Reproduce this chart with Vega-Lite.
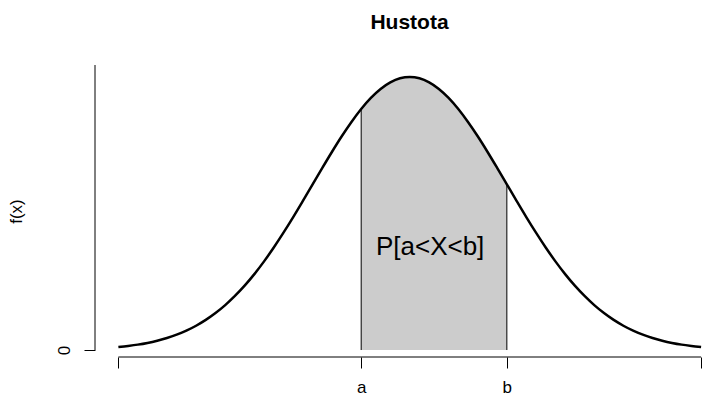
{
  "$schema": "https://vega.github.io/schema/vega-lite/v6.json",
  "autosize": "none",
  "padding": {"left": 95, "top": 65, "right": 0, "bottom": 40},
  "width": 607,
  "height": 292,
  "background": "white",
  "config": {
    "view": {"stroke": null},
    "font": "Liberation Sans",
    "title": {"font": "Liberation Sans", "fontSize": 21, "fontWeight": "bold", "color": "black", "anchor": "middle", "offset": 32},
    "axis": {"labelFont": "Liberation Sans", "titleFont": "Liberation Sans", "labelColor": "black", "titleColor": "black", "tickColor": "black", "grid": false, "domain": false}
  },
  "title": {"text": "Hustota", "dx": 11},
  "datasets": {
    "curve": [
      {"x": -3.0, "y": 0.0044}, {"x": -2.9, "y": 0.0060}, {"x": -2.8, "y": 0.0079}, {"x": -2.7, "y": 0.0104},
      {"x": -2.6, "y": 0.0136}, {"x": -2.5, "y": 0.0175}, {"x": -2.4, "y": 0.0224}, {"x": -2.3, "y": 0.0283},
      {"x": -2.2, "y": 0.0355}, {"x": -2.1, "y": 0.0440}, {"x": -2.0, "y": 0.0540}, {"x": -1.9, "y": 0.0656},
      {"x": -1.8, "y": 0.0790}, {"x": -1.7, "y": 0.0940}, {"x": -1.6, "y": 0.1109}, {"x": -1.5, "y": 0.1295},
      {"x": -1.4, "y": 0.1497}, {"x": -1.3, "y": 0.1714}, {"x": -1.2, "y": 0.1942}, {"x": -1.1, "y": 0.2179},
      {"x": -1.0, "y": 0.2420}, {"x": -0.9, "y": 0.2661}, {"x": -0.8, "y": 0.2897}, {"x": -0.7, "y": 0.3123},
      {"x": -0.6, "y": 0.3332}, {"x": -0.5, "y": 0.3521}, {"x": -0.4, "y": 0.3683}, {"x": -0.3, "y": 0.3814},
      {"x": -0.2, "y": 0.3910}, {"x": -0.1, "y": 0.3970}, {"x": 0.0, "y": 0.3989}, {"x": 0.1, "y": 0.3970},
      {"x": 0.2, "y": 0.3910}, {"x": 0.3, "y": 0.3814}, {"x": 0.4, "y": 0.3683}, {"x": 0.5, "y": 0.3521},
      {"x": 0.6, "y": 0.3332}, {"x": 0.7, "y": 0.3123}, {"x": 0.8, "y": 0.2897}, {"x": 0.9, "y": 0.2661},
      {"x": 1.0, "y": 0.2420}, {"x": 1.1, "y": 0.2179}, {"x": 1.2, "y": 0.1942}, {"x": 1.3, "y": 0.1714},
      {"x": 1.4, "y": 0.1497}, {"x": 1.5, "y": 0.1295}, {"x": 1.6, "y": 0.1109}, {"x": 1.7, "y": 0.0940},
      {"x": 1.8, "y": 0.0790}, {"x": 1.9, "y": 0.0656}, {"x": 2.0, "y": 0.0540}, {"x": 2.1, "y": 0.0440},
      {"x": 2.2, "y": 0.0355}, {"x": 2.3, "y": 0.0283}, {"x": 2.4, "y": 0.0224}, {"x": 2.5, "y": 0.0175},
      {"x": 2.6, "y": 0.0136}, {"x": 2.7, "y": 0.0104}, {"x": 2.8, "y": 0.0079}, {"x": 2.9, "y": 0.0060},
      {"x": 3.0, "y": 0.0044}
    ],
    "annot": [{"x": 0.21, "y": 0.15, "label": "P[a<X<b]"}]
  },
  "layer": [
    {
      "data": {"name": "curve"},
      "transform": [{"filter": {"field": "x", "range": [-0.5, 1]}}],
      "mark": {"type": "area", "color": "#cccccc", "opacity": 1},
      "encoding": {
        "x": {
          "field": "x", "type": "quantitative",
          "scale": {"domain": [-3.2407, 3.0093], "nice": false, "zero": false},
          "axis": {"title": null, "values": [-3, -0.5, 1, 3], "tickSize": 11, "labelFontSize": 17, "labelPadding": 11,
                   "labelExpr": "datum.value == -0.5 ? 'a' : (datum.value == 1 ? 'b' : '')"}
        },
        "y": {
          "field": "y", "type": "quantitative",
          "scale": {"domain": [-0.0102, 0.4164], "nice": false, "zero": false},
          "axis": {"title": "f(x)", "titleFontSize": 17, "titleFontWeight": "normal", "titlePadding": 30, "values": [0], "tickSize": 11,
                   "labelExpr": "'0'", "labelFontSize": 17, "labelAngle": 270, "labelAlign": "center", "labelBaseline": "alphabetic", "labelPadding": 15}
        },
        "y2": {"datum": 0}
      }
    },
    {
      "data": {"name": "curve"},
      "transform": [{"filter": {"field": "x", "oneOf": [-0.5, 1]}}],
      "mark": {"type": "rule", "color": "black", "strokeWidth": 1},
      "encoding": {
        "x": {"field": "x", "type": "quantitative"},
        "y": {"field": "y", "type": "quantitative"},
        "y2": {"datum": 0}
      }
    },
    {
      "data": {"name": "curve"},
      "mark": {"type": "line", "color": "black", "strokeWidth": 2.5, "interpolate": "monotone"},
      "encoding": {
        "x": {"field": "x", "type": "quantitative"},
        "y": {"field": "y", "type": "quantitative"}
      }
    },
    {
      "data": {"name": "annot"},
      "mark": {"type": "text", "fontSize": 26, "font": "Liberation Sans", "color": "black", "align": "center", "baseline": "middle"},
      "encoding": {
        "x": {"field": "x", "type": "quantitative"},
        "y": {"field": "y", "type": "quantitative"},
        "text": {"field": "label"}
      }
    },
    {
      "data": {"values": [{"k": 1}]},
      "mark": {"type": "rule", "color": "black", "strokeWidth": 1},
      "encoding": {"x": {"datum": -3.2407, "type": "quantitative"}, "y": {"datum": 0, "type": "quantitative"}, "y2": {"datum": 0.4164}}
    },
    {
      "data": {"values": [{"k": 1}]},
      "mark": {"type": "rule", "color": "black", "strokeWidth": 1},
      "encoding": {"x": {"datum": -3, "type": "quantitative"}, "x2": {"datum": 3}, "y": {"datum": -0.0102, "type": "quantitative"}}
    }
  ]
}
